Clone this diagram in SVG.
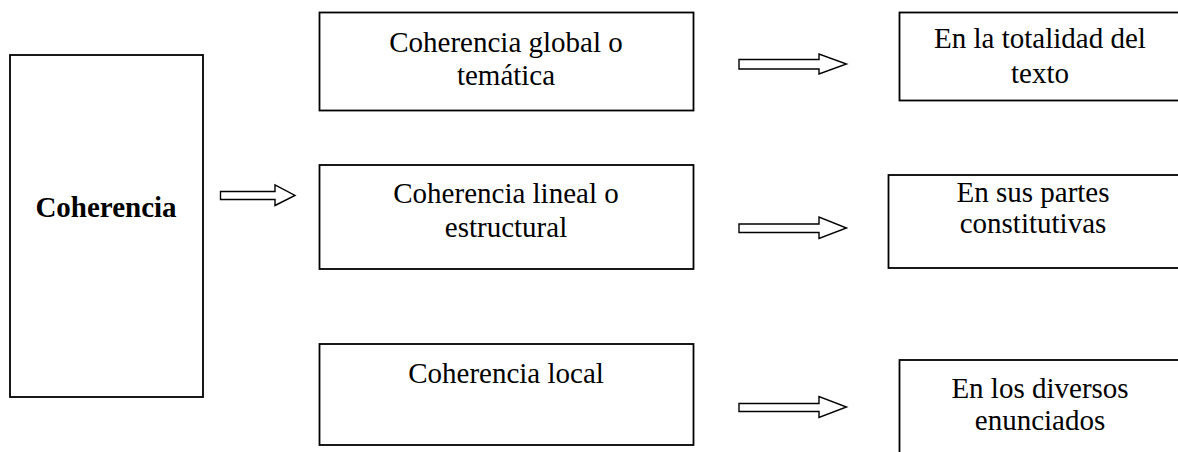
<svg xmlns="http://www.w3.org/2000/svg" width="1178" height="452" viewBox="0 0 1178 452">
<style>
.box{fill:#fff;stroke:#000;stroke-width:1.8}
.t{font-family:"Liberation Serif","Times New Roman",serif;font-size:29px;fill:#000;text-anchor:middle}
.b{font-weight:bold}
.arr{fill:#fff;stroke:#000;stroke-width:1.4;stroke-linejoin:miter}
</style>
<rect width="1178" height="452" fill="#fff"/>
<g id="coherencia">
<rect class="box" x="10" y="55" width="193" height="342"/>
<text class="t b" x="106" y="217">Coherencia</text>
</g>
<g id="global">
<rect class="box" x="319.5" y="12.5" width="374" height="98"/>
<text class="t" x="506" y="52">Coherencia global o</text>
<text class="t" x="506" y="85">temática</text>
</g>
<g id="lineal">
<rect class="box" x="319.5" y="165" width="374" height="104"/>
<text class="t" x="506" y="203">Coherencia lineal o</text>
<text class="t" x="506" y="237">estructural</text>
</g>
<g id="local">
<rect class="box" x="319.5" y="344" width="374" height="101"/>
<text class="t" x="506" y="383">Coherencia local</text>
</g>
<g id="totalidad">
<rect class="box" x="899.5" y="12.5" width="300" height="88"/>
<text class="t" x="1040" y="48">En la totalidad del</text>
<text class="t" x="1040" y="83">texto</text>
</g>
<g id="partes">
<rect class="box" x="888.5" y="175" width="310" height="93"/>
<text class="t" x="1033" y="202">En sus partes</text>
<text class="t" x="1033" y="233">constitutivas</text>
</g>
<g id="enunciados">
<rect class="box" x="899.5" y="360" width="300" height="120"/>
<text class="t" x="1040" y="398">En los diversos</text>
<text class="t" x="1040" y="430">enunciados</text>
</g>
<g id="connectors">
<path class="arr" d="M220.5 191.5 H275 V185 L295 195.5 L275 205.5 V199.5 H220.5 Z"/>
<path class="arr" d="M739 59.5 H819 V54 L846.5 64 L819 74 V69 H739 Z"/>
<path class="arr" d="M739 224 H819 V217 L846.5 228 L819 238.5 V232.5 H739 Z"/>
<path class="arr" d="M739 403.5 H819 V396.5 L846.5 407 L819 417.5 V411.5 H739 Z"/>
</g>
</svg>
